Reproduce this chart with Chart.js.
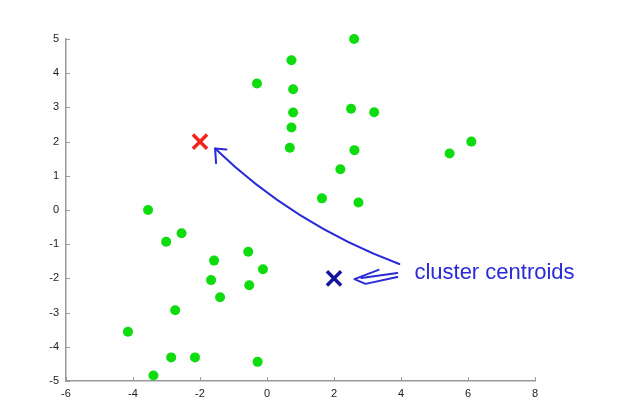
<!DOCTYPE html>
<html>
<head>
<meta charset="utf-8">
<script src="https://cdn.jsdelivr.net/npm/chart.js@4/dist/chart.umd.min.js"></script>
<style>
  html, body { margin: 0; padding: 0; background: #fff; }
  #wrap { width: 617px; height: 415px; }
</style>
</head>
<body>
<div id="wrap"><canvas id="grafico" width="617" height="415"></canvas></div>
<script>
// Dados
const pontosX = [2.6, 0.73, -0.3, 0.78, 0.78, 0.73, 0.68, 2.51, 3.2, 2.61, 2.19, 1.64, 2.73, 5.45, 6.1,
  -3.55, -3.01, -2.55, -0.56, -1.58, -0.12, -1.67, -0.53, -1.4, -2.74, -4.15, -2.86, -2.15, -0.28, -3.39];
const pontosY = [5.0, 4.38, 3.7, 3.53, 2.85, 2.41, 1.82, 2.96, 2.86, 1.75, 1.19, 0.34, 0.22, 1.65, 2.0,
  0.0, -0.93, -0.68, -1.22, -1.48, -1.73, -2.05, -2.2, -2.55, -2.93, -3.56, -4.31, -4.31, -4.44, -4.84];
const centroideVermelho = [-2, 2];
const centroideAzul = [2, -2];
const xTicks = [-6, -4, -2, 0, 2, 4, 6, 8];
const yTicks = [-5, -4, -3, -2, -1, 0, 1, 2, 3, 4, 5];

// Anotação (em coordenadas dos dados)
const rotulo = "cluster centroids";
const rotuloPos = [4.4, -2.02];
const curvaInicio = [3.95, -1.58];
const curvaControle = [0.78, -0.41];
const curvaFim = [-1.55, 1.8];
const pontaBraco1 = [-1.21, 1.77];
const pontaBraco2 = [-1.52, 1.37];
const setaCurta = [[3.33, -1.75], [2.61, -2.02], [2.94, -2.16], [3.89, -1.96]];
const setaCurtaLinha = [[2.82, -1.99], [3.89, -1.84]];

const cinza = "#9a9a9a";
const azulMao = "#2a2ad6";

function xy(xs, ys) {
  return xs.map((x, i) => ({ x: x, y: ys[i] }));
}

// Desenha as marcas de escala para dentro e a anotação feita à mão
const anotacao = {
  id: "anotacao",
  afterDraw(chart) {
    const ctx = chart.ctx;
    const sx = chart.scales.x;
    const sy = chart.scales.y;
    const area = chart.chartArea;
    const P = (p) => [sx.getPixelForValue(p[0]), sy.getPixelForValue(p[1])];

    ctx.save();
    ctx.strokeStyle = cinza;
    ctx.lineWidth = 1;
    xTicks.forEach((t) => {
      const px = Math.round(sx.getPixelForValue(t)) + 0.5;
      ctx.beginPath();
      ctx.moveTo(px, area.bottom);
      ctx.lineTo(px, area.bottom - 4);
      ctx.stroke();
    });
    yTicks.forEach((t) => {
      const py = Math.round(sy.getPixelForValue(t)) + 0.5;
      ctx.beginPath();
      ctx.moveTo(area.left, py);
      ctx.lineTo(area.left + 4, py);
      ctx.stroke();
    });

    // seta curva
    ctx.strokeStyle = azulMao;
    ctx.lineWidth = 2;
    ctx.lineCap = "round";
    ctx.lineJoin = "round";
    const a = P(curvaInicio), c = P(curvaControle), b = P(curvaFim);
    ctx.beginPath();
    ctx.moveTo(a[0], a[1]);
    ctx.quadraticCurveTo(c[0], c[1], b[0], b[1]);
    ctx.stroke();
    const b1 = P(pontaBraco1), b2 = P(pontaBraco2);
    ctx.beginPath();
    ctx.moveTo(b1[0], b1[1]);
    ctx.lineTo(b[0], b[1]);
    ctx.lineTo(b2[0], b2[1]);
    ctx.stroke();

    // seta curta
    ctx.beginPath();
    setaCurta.forEach((p, i) => {
      const q = P(p);
      if (i == 0) ctx.moveTo(q[0], q[1]);
      else ctx.lineTo(q[0], q[1]);
    });
    ctx.stroke();
    const l1 = P(setaCurtaLinha[0]), l2 = P(setaCurtaLinha[1]);
    ctx.beginPath();
    ctx.moveTo(l1[0], l1[1]);
    ctx.lineTo(l2[0], l2[1]);
    ctx.stroke();

    // texto
    const t = P(rotuloPos);
    ctx.fillStyle = azulMao;
    ctx.font = '22px "Liberation Sans"';
    ctx.textBaseline = "alphabetic";
    ctx.textAlign = "left";
    ctx.fillText(rotulo, t[0], t[1], 162);
    ctx.restore();
  },
};

const ctx = document.querySelector("#grafico").getContext("2d");
const chart = new Chart(ctx, {
  type: "scatter",
  data: {
    datasets: [
      {
        label: "dados",
        data: xy(pontosX, pontosY),
        backgroundColor: "#0fdc0f",
        borderColor: "#0fdc0f",
        borderWidth: 0,
        pointRadius: 5,
        clip: false,
      },
      {
        label: "centroide 1",
        data: [{ x: centroideVermelho[0], y: centroideVermelho[1] }],
        pointStyle: "crossRot",
        borderColor: "#f2261c",
        borderWidth: 3.5,
        pointRadius: 10,
        clip: false,
      },
      {
        label: "centroide 2",
        data: [{ x: centroideAzul[0], y: centroideAzul[1] }],
        pointStyle: "crossRot",
        borderColor: "#15159c",
        borderWidth: 3.5,
        pointRadius: 10,
        clip: false,
      },
    ],
  },
  options: {
    responsive: false,
    animation: false,
    layout: { padding: { left: 0, top: 39, right: 82, bottom: 0 } },
    plugins: { legend: { display: false }, tooltip: { enabled: false } },
    scales: {
      x: {
        type: "linear",
        min: -6,
        max: 8,
        afterBuildTicks: (s) => { s.ticks = xTicks.map((v) => ({ value: v })); },
        afterFit: (s) => { s.height = 34; },
        grid: { drawOnChartArea: false, drawTicks: false },
        border: { color: cinza, width: 1.5 },
        ticks: { padding: 6, color: "#222", font: { family: "Liberation Sans", size: 11 } },
      },
      y: {
        type: "linear",
        min: -5,
        max: 5,
        afterBuildTicks: (s) => { s.ticks = yTicks.map((v) => ({ value: v })); },
        afterFit: (s) => { s.width = 66; },
        grid: { drawOnChartArea: false, drawTicks: false },
        border: { color: cinza, width: 1.5 },
        ticks: { padding: 7, color: "#222", font: { family: "Liberation Sans", size: 11 } },
      },
    },
  },
  plugins: [anotacao],
});
</script>
</body>
</html>
